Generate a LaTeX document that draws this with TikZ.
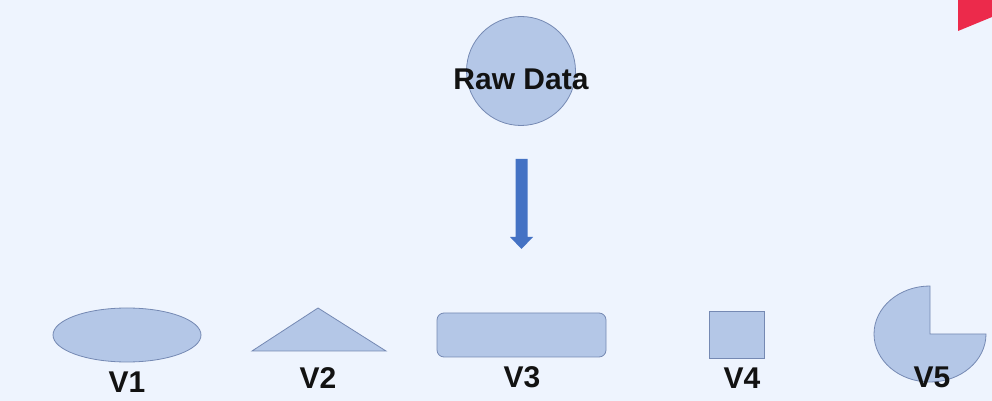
\documentclass[tikz,border=0pt]{standalone}
\usepackage{fontspec}
\setmainfont{Liberation Sans}
\usetikzlibrary{shapes.geometric}
\definecolor{bg}{HTML}{EEF4FE}
\definecolor{shapefill}{HTML}{B4C7E7}
\definecolor{shapeline}{HTML}{7589B3}
\definecolor{arrowblue}{HTML}{4472C4}
\definecolor{cornerred}{HTML}{EC2A4B}
\tikzset{
  shp/.style={fill=shapefill, draw=shapeline, line width=0.8pt},
  lbl/.style={inner sep=0pt, text=black!93, font=\fontsize{30}{36}\selectfont\bfseries}
}
\begin{document}
\begin{tikzpicture}[x=1pt,y=1pt]
\fill[bg] (0,0) rectangle (992,401);
\useasboundingbox (0,0) rectangle (992,401);
% corner mark
\fill[cornerred] (958,401) -- (992,401) -- (992,384) -- (958,370) -- cycle;
% raw data circle
\node[shp, circle, minimum size=109pt, inner sep=0pt] (raw) at (521,330) {};
\node[lbl] (rawlbl) at (521,322) {Raw Data};
% block arrow
\fill[arrowblue] (515.5,242) -- (527.5,242) -- (527.5,164) -- (533,164) -- (521.5,152) -- (510,164) -- (515.5,164) -- cycle;
% V1 ellipse
\node[shp, ellipse, minimum width=148pt, minimum height=54pt, inner sep=0pt] (v1) at (127,66) {};
% V2 triangle
\draw[shp] (252,50) -- (386,50) -- (318,93) -- cycle;
\coordinate (v2) at (318,50);
% V3 rounded rectangle
\draw[shp, rounded corners=7pt] (437,44) rectangle (606,88);
% V4 square
\node[shp, rectangle, minimum width=55pt, minimum height=47pt, inner sep=0pt] (v4) at (736.5,66.5) {};
% V5 pie
\draw[shp] (930,67) -- (930,115) arc[start angle=90, end angle=360, x radius=56, y radius=48] -- cycle;
% labels
\node[lbl] (l1) at (127,19) {V1};
\node[lbl] (l2) at (318,23) {V2};
\node[lbl] (l3) at (522,24) {V3};
\node[lbl] (l4) at (742,23) {V4};
\node[lbl] (l5) at (932,24) {V5};
\end{tikzpicture}
\end{document}
